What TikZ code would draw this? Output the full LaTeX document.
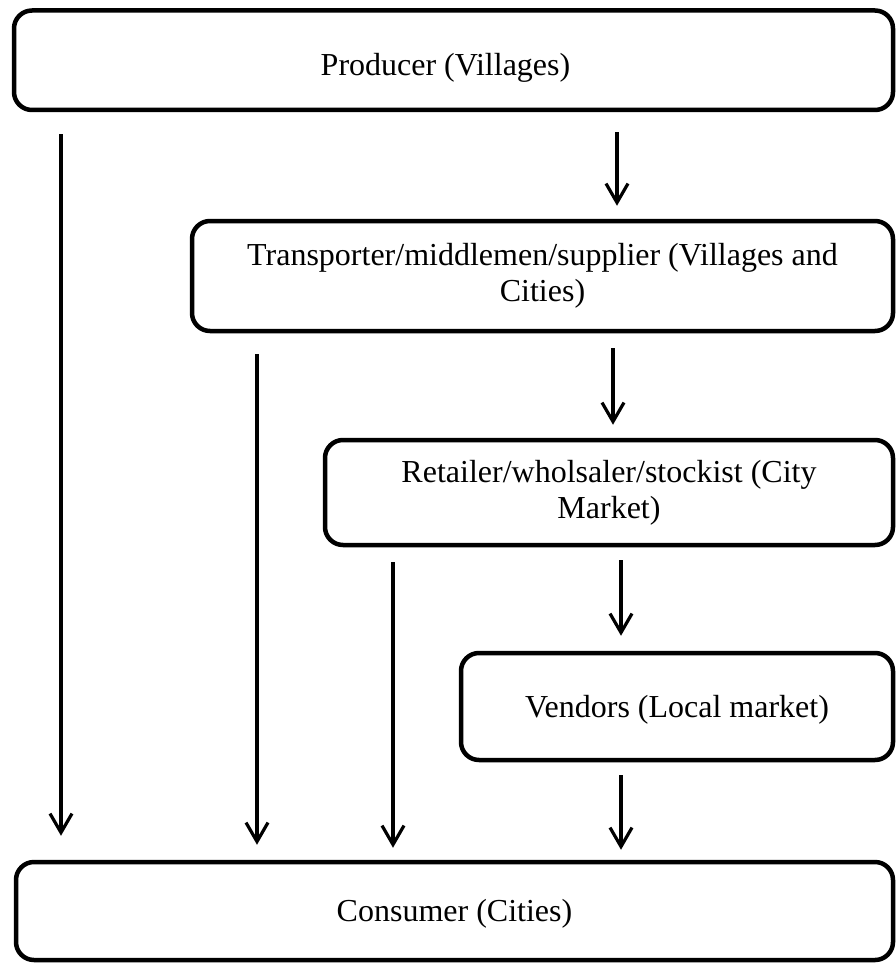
\documentclass[tikz,border=0pt]{standalone}
\usepackage{fontspec}
\setmainfont{Liberation Serif}
\usetikzlibrary{arrows.meta}
\begin{document}
\begin{tikzpicture}[x=1pt,y=-1pt,
  box/.style={draw=black, line width=4.5pt, rounded corners=18pt, rectangle, align=center, inner sep=0pt, font=\fontsize{32}{36}\selectfont},
  arr/.style={line width=3.2pt, -{Straight Barb[length=19pt,width=22pt]}}]
\useasboundingbox (0,0) rectangle (896,963);
\node[box, minimum width=879pt, minimum height=99.5pt] (b1) at (453.5,60.25) {\raisebox{-8pt}[\height][\depth]{\hspace*{-16pt}Producer (Villages)}};
\node[box, minimum width=701pt, minimum height=110pt] (b2) at (542.5,276) {Transporter/middlemen/supplier (Villages and\\Cities)};
\node[box, minimum width=568pt, minimum height=105pt] (b3) at (609,492.5) {Retailer/wholsaler/stockist (City\\Market)};
\node[box, minimum width=432pt, minimum height=107pt] (b4) at (677,706.5) {\raisebox{-3pt}[\height][\depth]{Vendors (Local market)}};
\node[box, minimum width=877pt, minimum height=98pt] (b5) at (454.5,911) {\raisebox{-3pt}[\height][\depth]{Consumer (Cities)}};
\coordinate (xa) at (61,0);
\coordinate (xb) at (617,0);
\coordinate (xc) at (257,0);
\coordinate (xd) at (613,0);
\coordinate (xe) at (393,0);
\coordinate (xf) at (621,0);
\draw[arr, shorten <=22pt, shorten >=24pt] (b1.south -| xa) -- (b5.north -| xa);
\draw[arr, shorten <=20pt, shorten >=13pt] (b1.south -| xb) -- (b2.north -| xb);
\draw[arr, shorten <=21pt, shorten >=15pt] (b2.south -| xc) -- (b5.north -| xc);
\draw[arr, shorten <=15pt, shorten >=13pt] (b2.south -| xd) -- (b3.north -| xd);
\draw[arr, shorten <=15pt, shorten >=12pt] (b3.south -| xe) -- (b5.north -| xe);
\draw[arr, shorten <=13pt, shorten >=15pt] (b3.south -| xf) -- (b4.north -| xf);
\draw[arr, shorten <=13pt, shorten >=10pt] (b4.south -| xf) -- (b5.north -| xf);
\end{tikzpicture}
\end{document}
